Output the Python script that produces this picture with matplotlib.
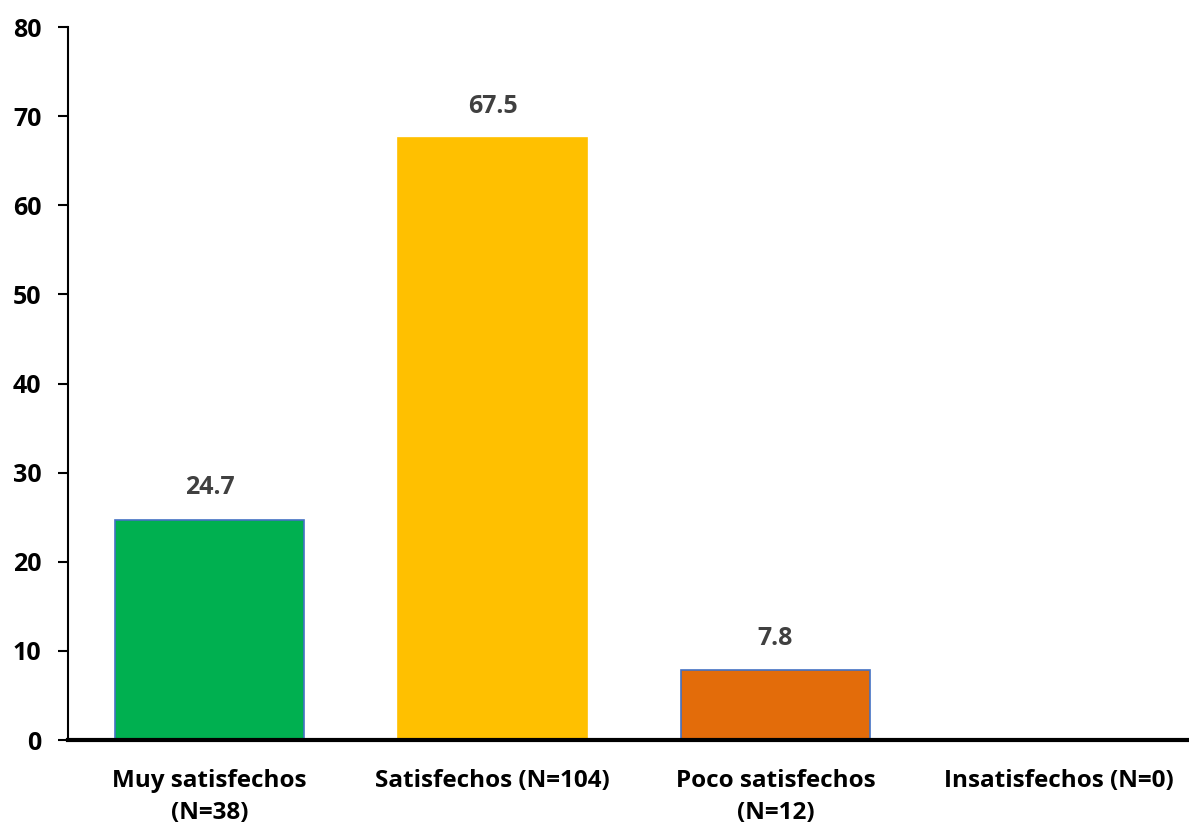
import matplotlib.pyplot as plt

# datos
categorias = ['Muy satisfechos\n(N=38)', 'Satisfechos (N=104)',
              'Poco satisfechos\n(N=12)', 'Insatisfechos (N=0)']
porcentajes = [24.7, 67.5, 7.8, 0]
etiquetas = ['24.7', '67.5', '7.8', '']
colores = ['#00B050', '#FFC000', '#E36C0A', '#FFFFFF']
bordes = ['#4472C4', '#FFC000', '#4472C4', '#FFFFFF']

plt.rcParams['font.family'] = ['Open Sans', 'DejaVu Sans']

fig = plt.figure(figsize=(11.89, 8.31), dpi=100)
ax = fig.add_axes([0.0572, 0.1095, 0.952, 0.858])

x = range(len(categorias))
barras = ax.bar(x, porcentajes, width=0.67, color=colores,
                edgecolor=bordes, linewidth=1.2)

for b, txt in zip(barras, etiquetas):
    if txt:
        ax.text(b.get_x() + b.get_width() / 2, b.get_height() + 2.2, txt,
                ha='center', va='bottom', fontsize=18, fontweight='bold',
                color='#404040')

ax.set_xlim(-0.5, 3.5)
ax.set_ylim(0, 80)
ax.set_yticks(range(0, 81, 10))
ax.set_xticks(list(x))
ax.set_xticklabels(categorias, fontsize=17.5, fontweight='bold', linespacing=1.45)
for lbl in ax.get_yticklabels():
    lbl.set_fontsize(18)
    lbl.set_fontweight('bold')

ax.spines['top'].set_visible(False)
ax.spines['right'].set_visible(False)
ax.spines['left'].set_linewidth(1.5)
ax.spines['bottom'].set_linewidth(3)
ax.tick_params(axis='y', length=7, width=1.5, pad=12)
ax.tick_params(axis='x', length=0, pad=21)

plt.savefig('out.png', dpi=100)
